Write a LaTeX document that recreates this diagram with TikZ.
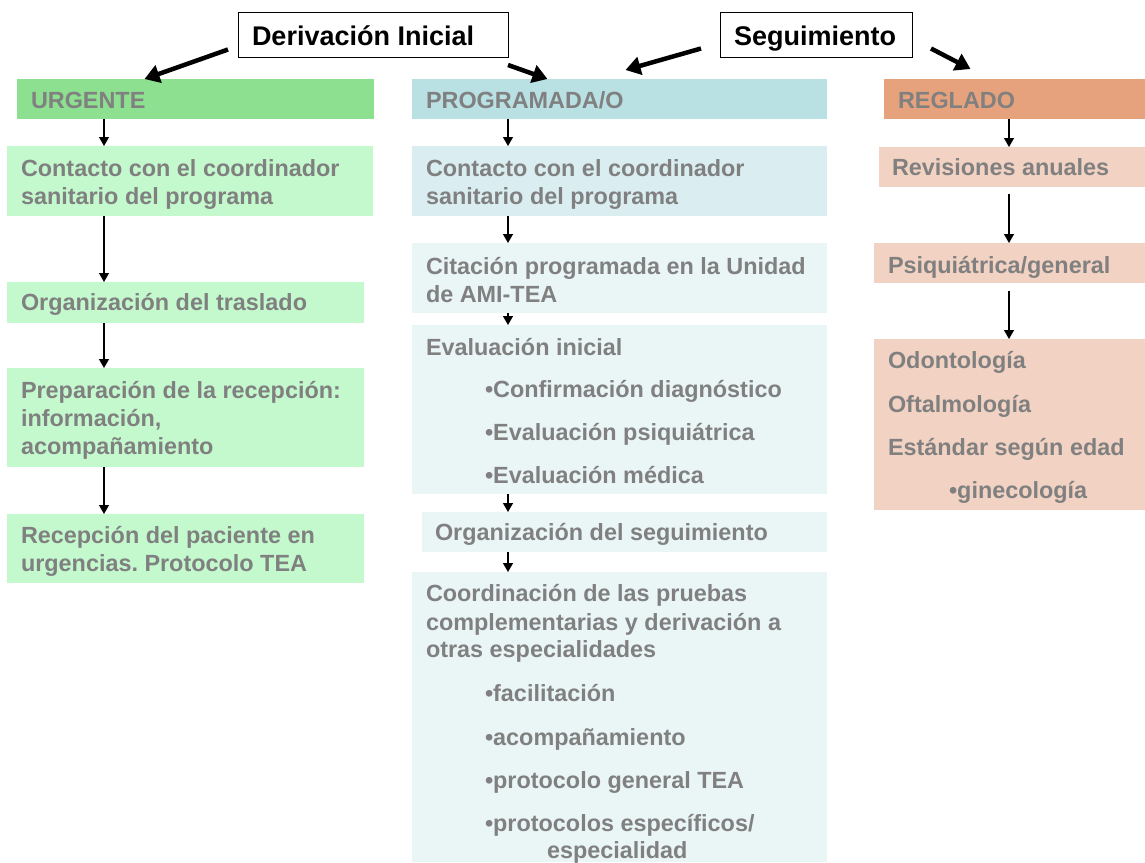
\documentclass[tikz,border=0pt]{standalone}
\usepackage{fontspec}
\setmainfont{Liberation Sans}
\usetikzlibrary{arrows.meta}
\definecolor{tgray}{RGB}{128,128,128}
\definecolor{ubar}{RGB}{141,224,143}
\definecolor{ubox}{RGB}{195,249,205}
\definecolor{pbar}{RGB}{185,224,227}
\definecolor{pboxa}{RGB}{218,237,240}
\definecolor{pbox}{RGB}{234,245,246}
\definecolor{rbar}{RGB}{230,162,125}
\definecolor{rbox}{RGB}{242,210,194}
\frenchspacing
\begin{document}
\begin{tikzpicture}[x=1pt,y=-1pt,
  box/.style={anchor=north west, inner sep=0pt, outer sep=0pt, draw=none},
  hbox/.style={anchor=north west, inner sep=0pt, outer sep=0pt, draw=black, line width=1pt, fill=white},
  txt/.style={anchor=base west, inner sep=0pt, outer sep=0pt, text=tgray, font={\fontsize{23.4}{28}\selectfont\bfseries}},
  hdr/.style={anchor=base west, inner sep=0pt, outer sep=0pt, text=black, font={\fontsize{27}{32}\selectfont\bfseries}},
  bigarrow/.style={line width=4.5pt, -{Triangle[length=15pt,width=18pt]}},
  smallarrow/.style={line width=1.3pt, -{Triangle[length=9pt,width=10pt]}}]
\useasboundingbox (0,0) rectangle (1145,862);

% header boxes
\node[hbox, minimum width=270pt, minimum height=45pt] (deriv) at (238,12) {};
\node[hbox, minimum width=192pt, minimum height=45pt] (seg) at (720,12) {};
\node[hdr] (tderiv) at (252,45) {Derivación Inicial};
\node[hdr] (tseg) at (734,45) {Seguimiento};

% bars
\node[box, fill=ubar, minimum width=357pt, minimum height=40pt] (urg) at (17,79) {};
\node[box, fill=pbar, minimum width=415pt, minimum height=40pt] (prog) at (412,79) {};
\node[box, fill=rbar, minimum width=261pt, minimum height=40pt] (regl) at (884,79) {};
\node[txt] (turg) at (31,108) {URGENTE};
\node[txt] (tprog) at (426,108) {PROGRAMADA/O};
\node[txt] (tregl) at (898,108) {REGLADO};

% URGENTE column
\node[box, fill=ubox, minimum width=366pt, minimum height=70pt] (u1) at (7,146) {};
\node[box, fill=ubox, minimum width=357pt, minimum height=41pt] (u2) at (7,282) {};
\node[box, fill=ubox, minimum width=357pt, minimum height=99pt] (u3) at (7,368) {};
\node[box, fill=ubox, minimum width=357pt, minimum height=69pt] (u4) at (7,514) {};
\node[txt] (u1a) at (21,176) {Contacto con el coordinador};
\node[txt] (u1b) at (21,204) {sanitario del programa};
\node[txt] (u2a) at (21,310) {Organización del traslado};
\node[txt] (u3a) at (21,398) {Preparación de la recepción:};
\node[txt] (u3b) at (21,426) {información,};
\node[txt] (u3c) at (21,454) {acompañamiento};
\node[txt] (u4a) at (21,543) {Recepción del paciente en};
\node[txt] (u4b) at (21,571) {urgencias. Protocolo TEA};

% PROGRAMADA column
\node[box, fill=pboxa, minimum width=415pt, minimum height=70pt] (p1) at (412,146) {};
\node[box, fill=pbox, minimum width=415pt, minimum height=70pt] (p2) at (412,243) {};
\node[box, fill=pbox, minimum width=415pt, minimum height=169pt] (p3) at (412,325) {};
\node[box, fill=pbox, minimum width=405pt, minimum height=40pt] (p4) at (422,512) {};
\node[box, fill=pbox, minimum width=415pt, minimum height=290pt] (p5) at (412,572) {};
\node[txt] (p1a) at (426,176) {Contacto con el coordinador};
\node[txt] (p1b) at (426,204) {sanitario del programa};
\node[txt] (p2a) at (426,274) {Citación programada en la Unidad};
\node[txt] (p2b) at (426,302) {de AMI-TEA};
\node[txt] (p3a) at (426,355) {Evaluación inicial};
\node[txt] (p3b) at (485,397) {•Confirmación diagnóstico};
\node[txt] (p3c) at (485,440) {•Evaluación psiquiátrica};
\node[txt] (p3d) at (485,483) {•Evaluación médica};
\node[txt] (p4a) at (435,540) {Organización del seguimiento};
\node[txt] (p5a) at (426,601) {Coordinación de las pruebas};
\node[txt] (p5b) at (426,630) {complementarias y derivación a};
\node[txt] (p5c) at (426,657) {otras especialidades};
\node[txt] (p5d) at (485,701) {•facilitación};
\node[txt] (p5e) at (485,745) {•acompañamiento};
\node[txt] (p5f) at (485,788) {•protocolo general TEA};
\node[txt] (p5g) at (485,831) {•protocolos específicos/};
\node[txt] (p5h) at (547,858) {especialidad};

% REGLADO column
\node[box, fill=rbox, minimum width=266pt, minimum height=40pt] (r1) at (879,147) {};
\node[box, fill=rbox, minimum width=271pt, minimum height=40pt] (r2) at (874,243) {};
\node[box, fill=rbox, minimum width=271pt, minimum height=171pt] (r3) at (874,339) {};
\node[txt] (r1a) at (892,175) {Revisiones anuales};
\node[txt] (r2a) at (888,273) {Psiquiátrica/general};
\node[txt] (r3a) at (888,368) {Odontología};
\node[txt] (r3b) at (888,412) {Oftalmología};
\node[txt] (r3c) at (888,455) {Estándar según edad};
\node[txt] (r3d) at (949,498) {•ginecología};

% thick arrows
\draw[bigarrow] ([shift={(-10,15)}]deriv.west) -- ([shift={(-51,0)}]urg.north);
\draw[bigarrow] ([shift={(0,8)}]deriv.south east) -- ([shift={(-72,0)}]prog.north);
\draw[bigarrow] ([shift={(-19,14)}]seg.west) -- ([shift={(6,-9)}]prog.north);
\draw[bigarrow] ([shift={(19,14)}]seg.east) -- ([shift={(-44,-10)}]regl.north);

% column guides
\coordinate (ucol) at (104,0);
\coordinate (pcol) at (508,0);
\coordinate (rcol) at (1009,0);

% thin arrows
\draw[smallarrow] (urg.south -| ucol) -- (u1.north -| ucol);
\draw[smallarrow] (u1.south -| ucol) -- (u2.north -| ucol);
\draw[smallarrow] (u2.south -| ucol) -- (u3.north -| ucol);
\draw[smallarrow] (u3.south -| ucol) -- (u4.north -| ucol);

\draw[smallarrow] (prog.south -| pcol) -- (p1.north -| pcol);
\draw[smallarrow] (p1.south -| pcol) -- (p2.north -| pcol);
\draw[smallarrow] (p2.south -| pcol) -- (p3.north -| pcol);
\draw[smallarrow] (p3.south -| pcol) -- (p4.north -| pcol);
\draw[smallarrow] (p4.south -| pcol) -- (p5.north -| pcol);

\draw[smallarrow] (regl.south -| rcol) -- (r1.north -| rcol);
\draw[smallarrow, shorten <=7pt] (r1.south -| rcol) -- (r2.north -| rcol);
\draw[smallarrow, shorten <=8pt] (r2.south -| rcol) -- (r3.north -| rcol);
\end{tikzpicture}
\end{document}
